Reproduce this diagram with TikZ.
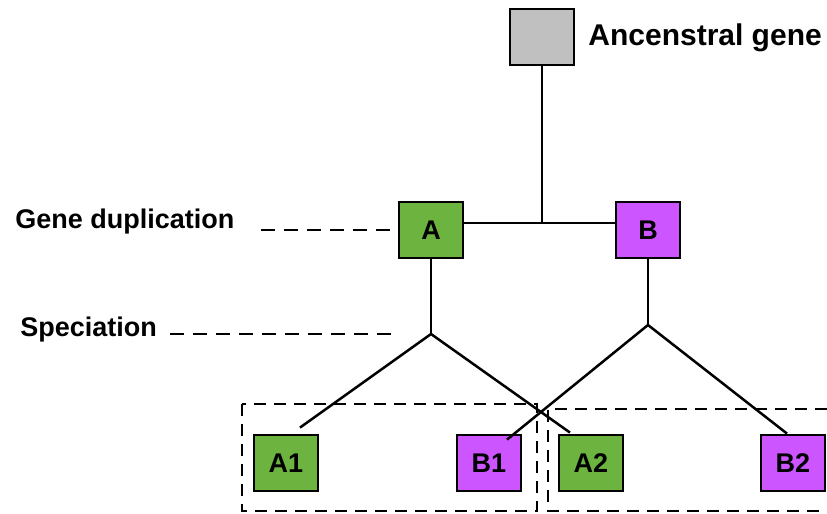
\documentclass[tikz,border=0pt]{standalone}
\usepackage{fontspec}
\setmainfont{Liberation Sans}
\definecolor{genegreen}{HTML}{6DB33F}
\definecolor{genepink}{HTML}{CC55FF}
\definecolor{genegray}{HTML}{C0C0C0}

\begin{document}
\begin{tikzpicture}[x=0.5pt,y=-0.5pt,
    gene/.style={draw, line width=1.4pt, minimum width=32pt, minimum height=28pt,
      inner sep=0pt, font=\fontsize{13.5}{16}\selectfont\bfseries},
    tag/.style={inner sep=0pt, anchor=west, font=\fontsize{13.5}{16}\selectfont\bfseries},
    branch/.style={line width=1.25pt},
    guide/.style={line width=1.4pt, dash pattern=on 7pt off 4.5pt},
    group/.style={line width=1.4pt, dash pattern=on 6pt off 4pt}]
  \useasboundingbox (0,0) rectangle (827,514);

  % ancestor
  \node[gene, fill=genegray] (anc) at (542,37) {};
  \node[tag, font=\fontsize{15}{18}\selectfont\bfseries] (anclab) at (588,38) {Ancenstral gene};

  % duplication
  \node[gene, fill=genegreen] (A) at (431,230) {A};
  \node[gene, fill=genepink] (B) at (648,230) {B};
  \coordinate (dupjoin) at (542,223);
  \draw[branch] (anc.south) -- (dupjoin);
  \draw[branch] (A.east |- dupjoin) -- (B.west |- dupjoin);

  % speciation
  \coordinate (spA) at (431,334);
  \coordinate (spB) at (648,325);
  \draw[branch] (A.south) -- (spA);
  \draw[branch] (B.south) -- (spB);

  % descendants
  \node[gene, fill=genegreen] (A1) at (286,463) {A1};
  \node[gene, fill=genepink] (B1) at (489,463) {B1};
  \node[gene, fill=genegreen] (A2) at (591,463) {A2};
  \node[gene, fill=genepink] (B2) at (793,463) {B2};
  \draw[branch] (spA) -- ([shift={(14,-6)}]A1.north);
  \draw[branch] (spA) -- ([shift={(-21,-1)}]A2.north);
  \draw[branch] (spB) -- ([shift={(18,6)}]B1.north);
  \draw[branch] (spB) -- ([shift={(-6,0)}]B2.north);

  % event labels
  \node[tag] (dup) at (15,222) {Gene duplication};
  \node[tag] (spc) at (20,330) {Speciation};
  \draw[guide, shorten <=13pt, shorten >=3.5pt] (dup.east |- A) -- (A.west);
  \draw[guide, shorten <=6.5pt, shorten >=18pt] (spc.east |- spA) -- (spA);

  % species groups
  \draw[group] (242,404) rectangle (537,511);
  \draw[group] (827,409) -- (548,409) -- (548,511) -- (827,511);
\end{tikzpicture}
\end{document}
